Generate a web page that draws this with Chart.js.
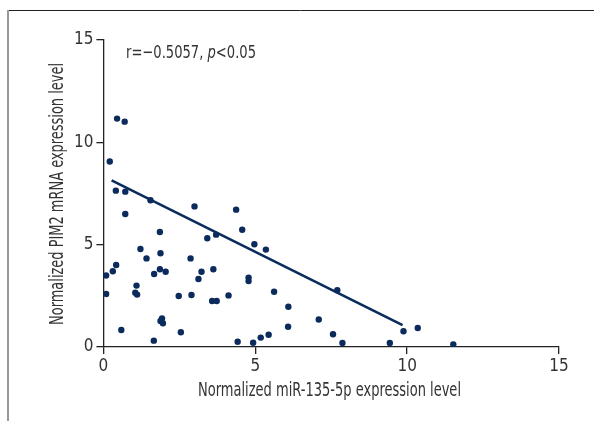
<!DOCTYPE html>
<html>
<head>
<meta charset="utf-8">
<script src="https://cdn.jsdelivr.net/npm/chart.js@4/dist/chart.umd.min.js"></script>
<style>
  html, body { margin: 0; padding: 0; background: #fff; }
  #wrap { position: relative; width: 594px; height: 421px; }
  canvas { display: block; }
</style>
</head>
<body>
<div id="wrap"><canvas id="c" width="594" height="421"></canvas></div>
<script>
// Data
const mirValues = [0.45, 0.70, 0.21, 0.41, 0.72, 0.72, 1.55, 3.00, 4.37, 4.57,
  3.42, 3.71, 1.86, 4.97, 5.35, 1.22, 1.42, 1.88, 2.87, 0.42,
  0.31, 0.09, 1.86, 2.05, 1.67, 3.62, 3.23, 3.13, 4.78, 4.78,
  1.09, 1.05, 1.11, 0.09, 2.48, 2.90, 3.58, 3.73, 4.12, 5.62,
  7.70, 6.09, 1.93, 1.88, 1.96, 7.09, 6.08, 0.59, 2.55, 1.66,
  4.42, 4.93, 5.18, 5.44, 7.56, 7.87, 9.43, 9.88, 10.35, 11.52];
const pim2Values = [11.16, 11.01, 9.06, 7.64, 7.59, 6.50, 7.17, 6.87, 6.71, 5.73,
  5.31, 5.49, 5.62, 5.02, 4.76, 4.79, 4.33, 4.58, 4.33, 4.01,
  3.70, 3.49, 3.80, 3.68, 3.57, 3.80, 3.68, 3.32, 3.39, 3.22,
  3.00, 2.65, 2.56, 2.59, 2.49, 2.54, 2.25, 2.25, 2.52, 2.70,
  2.77, 1.97, 1.40, 1.27, 1.16, 1.34, 0.99, 0.83, 0.72, 0.31,
  0.26, 0.21, 0.46, 0.60, 0.62, 0.20, 0.20, 0.77, 0.93, 0.13];
const fitX = [0.27, 9.85];
const fitY = [8.14, 1.07];
const xTicks = [0, 5, 10, 15];
const yTicks = [0, 5, 10, 15];
const xTitle = 'Normalized miR-135-5p expression level';
const yTitle = 'Normalized PIM2 mRNA expression level';
const statR = 'r=\u22120.5057, ';
const statP = 'p';
const statRest = '<0.05';

const FONT = '"DejaVu Sans Condensed", "DejaVu Sans", sans-serif';
const NAVY = '#0b2b5c';
const TEXT = '#333333';

const points = mirValues.map((x, i) => ({ x: x, y: pim2Values[i] }));
const fitLine = fitX.map((x, i) => ({ x: x, y: fitY[i] }));

// draw condensed text (reference uses a condensed face)
function condensedText(ctx, parts, cx, cy, targetW, rot) {
  let w = 0;
  parts.forEach(p => { ctx.font = p.font; w += ctx.measureText(p.t).width; });
  const sx = targetW / w;
  ctx.save();
  ctx.translate(cx, cy);
  if (rot) ctx.rotate(rot);
  ctx.scale(sx, 1);
  ctx.textBaseline = 'middle';
  ctx.textAlign = 'left';
  let x = -w / 2;
  parts.forEach(p => { ctx.font = p.font; ctx.fillText(p.t, x, 0); x += ctx.measureText(p.t).width; });
  ctx.restore();
}

const framePlugin = {
  id: 'frame',
  beforeDraw(chart) {
    const ctx = chart.ctx;
    ctx.save();
    ctx.fillStyle = '#ffffff';
    ctx.fillRect(0, 0, chart.width, chart.height);
    ctx.strokeStyle = '#222';
    ctx.lineWidth = 1;
    ctx.beginPath();
    ctx.moveTo(7, 10.5);
    ctx.lineTo(chart.width, 10.5);
    ctx.stroke();
    ctx.strokeStyle = '#999';
    ctx.lineWidth = 2;
    ctx.beginPath();
    ctx.moveTo(8, 10);
    ctx.lineTo(8, chart.height);
    ctx.stroke();
    ctx.restore();
  },
  afterDraw(chart) {
    const ctx = chart.ctx;
    ctx.save();
    ctx.fillStyle = TEXT;
    const f = '19px ' + FONT;
    condensedText(ctx, [{ t: xTitle, font: f }], 329.5, 391, 263, 0);
    condensedText(ctx, [{ t: yTitle, font: f }], 58, 194, 262, -Math.PI / 2);
    const g = '18px ' + FONT;
    condensedText(ctx, [
      { t: statR, font: g },
      { t: statP, font: 'italic ' + g },
      { t: statRest, font: g }
    ], 191, 53, 130, 0);
    ctx.restore();
  }
};

new Chart(document.getElementById('c'), {
  type: 'scatter',
  data: {
    datasets: [
      {
        type: 'line',
        data: fitLine,
        borderColor: NAVY,
        borderWidth: 2.6,
        pointRadius: 0,
        fill: false,
        tension: 0
      },
      {
        data: points,
        backgroundColor: NAVY,
        borderColor: NAVY,
        borderWidth: 0,
        pointRadius: 3.2
      }
    ]
  },
  options: {
    responsive: false,
    animation: false,
    devicePixelRatio: 1,
    layout: { padding: { left: 10, right: 35, top: 40, bottom: 6 } },
    plugins: { legend: { display: false }, tooltip: { enabled: false } },
    scales: {
      x: {
        type: 'linear',
        min: 0, max: 15,
        afterBuildTicks(s) { s.ticks = xTicks.map(v => ({ value: v })); },
        afterFit(s) { s.height = 68; },
        border: { display: true, color: '#222', width: 1.3 },
        grid: { drawOnChartArea: false, drawTicks: true, tickLength: 7, color: '#222', lineWidth: 1.3 },
        ticks: { color: TEXT, font: { family: FONT, size: 17 }, padding: 2 },
        title: { display: false }
      },
      y: {
        type: 'linear',
        min: 0, max: 15,
        afterBuildTicks(s) { s.ticks = yTicks.map(v => ({ value: v })); },
        afterFit(s) { s.width = 93.4; },
        border: { display: true, color: '#222', width: 1.3 },
        grid: { drawOnChartArea: false, drawTicks: true, tickLength: 7, color: '#222', lineWidth: 1.3 },
        ticks: { color: TEXT, font: { family: FONT, size: 17 }, padding: 3 },
        title: { display: false }
      }
    }
  },
  plugins: [framePlugin]
});
</script>
</body>
</html>
